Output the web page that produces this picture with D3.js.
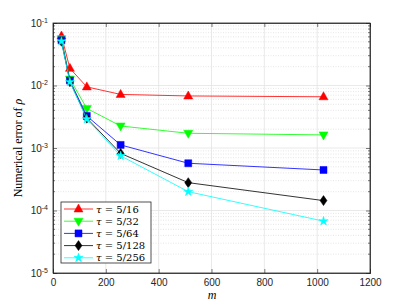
<!DOCTYPE html>
<html>
<head>
<meta charset="utf-8">
<script src="https://cdn.jsdelivr.net/npm/d3@7"></script>
<style>
  body { margin: 0; background: #fff; }
  svg { display: block; }
  .tick text { font-family: 'Liberation Sans', Arial, sans-serif; font-size: 10px; fill: #262626; }
</style>
</head>
<body>
<svg width="409" height="307"></svg>
<script>
'use strict'

// m values
let mValues = [32, 64, 128, 256, 512, 1024];

let seriesNames = ['5/16', '5/32', '5/64', '5/128', '5/256'];
let tau16 = [0.062, 0.0188, 0.0095, 0.0072, 0.0068, 0.0066];
let tau32 = [0.056, 0.0127, 0.0043, 0.00225, 0.00172, 0.00162];
let tau64 = [0.053, 0.012, 0.00325, 0.00112, 0.00057, 0.000445];
let tau128 = [0.051, 0.0115, 0.003, 0.00082, 0.000279, 0.000144];
let tau256 = [0.051, 0.0114, 0.0029, 0.00075, 0.0002, 0.0000676];

let xTicks = [0, 200, 400, 600, 800, 1000, 1200];
let yTicks = [1e-5, 1e-4, 1e-3, 1e-2, 1e-1];
let colors = ['#ff0000', '#00ff00', '#0000ff', '#000000', '#00ffff'];
let symbols = ['triangleUp', 'triangleDown', 'square', 'diamond', 'star'];

let svg = d3.select('svg');
let pLeft = 53, pRight = 370, pTop = 23, pBottom = 273;

let x = d3.scaleLinear().domain([0, 1200]).range([pLeft, pRight]);
let y = d3.scaleLog().domain([1e-5, 1e-1]).range([pBottom, pTop]);

let allSeries = [tau16, tau32, tau64, tau128, tau256];

// grid
let grid = svg.append('g');
let minors = [];
for (let e = -5; e < -1; e++) {
    for (let k = 2; k <= 9; k++) minors.push(k * Math.pow(10, e));
}
grid.selectAll('.minor').data(minors).enter().append('line')
    .attr('x1', pLeft).attr('x2', pRight)
    .attr('y1', d => y(d)).attr('y2', d => y(d))
    .attr('stroke', '#d4d4d4').attr('stroke-width', 0.6)
    .attr('stroke-dasharray', '1,1.5');
grid.selectAll('.majy').data(yTicks.slice(1, -1)).enter().append('line')
    .attr('x1', pLeft).attr('x2', pRight)
    .attr('y1', d => y(d)).attr('y2', d => y(d))
    .attr('stroke', '#e3e3e3').attr('stroke-width', 0.8);
grid.selectAll('.majx').data(xTicks.slice(1, -1)).enter().append('line')
    .attr('y1', pTop).attr('y2', pBottom)
    .attr('x1', d => x(d)).attr('x2', d => x(d))
    .attr('stroke', '#e3e3e3').attr('stroke-width', 0.8);

// axes
let xAxis = d3.axisBottom(x).tickValues(xTicks).tickSize(-4).tickPadding(6).tickFormat(d3.format('d'));
svg.append('g').attr('transform', 'translate(0,' + pBottom + ')').call(xAxis);
svg.append('g').attr('transform', 'translate(0,' + pTop + ')')
    .call(d3.axisTop(x).tickValues(xTicks).tickSize(-4).tickFormat(''));

let yAxis = d3.axisLeft(y).tickValues(yTicks).tickSize(-4).tickPadding(5).tickFormat('');
let ya = svg.append('g').attr('transform', 'translate(' + pLeft + ',0)').call(yAxis);
ya.selectAll('.tick text').each(function(d) {
    let t = d3.select(this);
    t.append('tspan').text('10');
    t.append('tspan').attr('dy', -4).attr('font-size', 7).text(Math.round(Math.log10(d)));
});
svg.append('g').attr('transform', 'translate(' + pRight + ',0)')
    .call(d3.axisRight(y).tickValues(yTicks).tickSize(-4).tickFormat(''));

// minor ticks on left and right
[pLeft, pRight].forEach(function(px) {
    let dir = px === pLeft ? 1 : -1;
    svg.append('g').selectAll('line').data(minors).enter().append('line')
        .attr('x1', px).attr('x2', px + dir * 2)
        .attr('y1', d => y(d)).attr('y2', d => y(d))
        .attr('stroke', '#262626').attr('stroke-width', 0.6);
});

svg.selectAll('.domain').attr('stroke', '#262626').attr('stroke-width', 0.8);
svg.selectAll('.tick line').attr('stroke', '#262626').attr('stroke-width', 0.6);

svg.append('rect').attr('x', pLeft).attr('y', pTop)
    .attr('width', pRight - pLeft).attr('height', pBottom - pTop)
    .attr('fill', 'none').attr('stroke', '#262626').attr('stroke-width', 0.8);

// marker shapes
function markerPath(kind) {
    if (kind === 'triangleUp') return 'M0,-5L4.5,3L-4.5,3Z';
    if (kind === 'triangleDown') return 'M0,5L4.5,-3L-4.5,-3Z';
    if (kind === 'square') return 'M-3.5,-3.5H3.5V3.5H-3.5Z';
    if (kind === 'diamond') return 'M0,-5L3.5,0L0,5L-3.5,0Z';
    return d3.symbol().type(d3.symbolStar).size(26)();
}

let line = d3.line().x(d => x(d[0])).y(d => y(d[1]));

allSeries.forEach(function(vals, i) {
    let pts = mValues.map((m, j) => [m, vals[j]]);
    let g = svg.append('g');
    g.append('path').datum(pts).attr('d', line)
        .attr('fill', 'none').attr('stroke', colors[i]).attr('stroke-width', 0.8);
    g.selectAll('path.mk').data(pts).enter().append('path')
        .attr('class', 'mk')
        .attr('d', markerPath(symbols[i]))
        .attr('transform', d => 'translate(' + x(d[0]) + ',' + y(d[1]) + ')')
        .attr('fill', colors[i]).attr('stroke', colors[i]).attr('stroke-width', 0.5);
});

// legend
let lg = svg.append('g');
lg.append('rect').attr('x', 61).attr('y', 202).attr('width', 90).attr('height', 61)
    .attr('fill', '#fff').attr('stroke', '#262626').attr('stroke-width', 0.8);
seriesNames.forEach(function(name, i) {
    let ly = 209 + i * 12.2;
    lg.append('line').attr('x1', 64).attr('x2', 93).attr('y1', ly).attr('y2', ly)
        .attr('stroke', colors[i]).attr('stroke-width', 0.8);
    lg.append('path').attr('d', markerPath(symbols[i]))
        .attr('transform', 'translate(78.5,' + ly + ')')
        .attr('fill', colors[i]).attr('stroke', colors[i]).attr('stroke-width', 0.5);
    let t = lg.append('text').attr('x', 96).attr('y', ly + 3.5)
        .attr('font-family', "'DejaVu Serif', 'Liberation Serif', serif").attr('font-size', 10).attr('fill', '#000');
    t.append('tspan').attr('font-style', 'italic').text('τ');
    t.append('tspan').text(' = ' + name);
});

// axis labels
svg.append('text').attr('x', 212).attr('y', 299).attr('text-anchor', 'middle')
    .attr('font-family', "'Liberation Serif', serif").attr('font-style', 'italic').attr('font-size', 12)
    .text('m');
let yl = svg.append('text').attr('transform', 'translate(22,148) rotate(-90)').attr('text-anchor', 'middle')
    .attr('font-family', "'Liberation Serif', serif").attr('font-size', 12);
yl.append('tspan').text('Numerical error of ');
yl.append('tspan').attr('font-style', 'italic').text('ρ');
</script>
</body>
</html>
